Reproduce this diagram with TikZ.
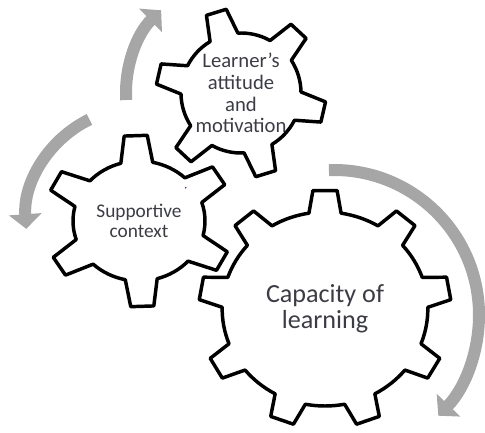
\documentclass[tikz,border=0pt]{standalone}
\usepackage{fontspec}
\setmainfont{Carlito}
\usepackage{tikz}
\usetikzlibrary{arrows.meta}
\definecolor{arrowgray}{RGB}{166,166,166}
\definecolor{textgray}{RGB}{60,60,70}

\begin{document}
\begin{tikzpicture}[x=0.75pt,y=0.75pt,
    gear/.style={draw=black,line width=2.6pt,line join=round},
    turn/.style={draw=arrowgray,line width=9pt,-{Triangle[width=24pt,length=11pt]}},
    word/.style={align=center,text=textgray,inner sep=0pt}]
    \useasboundingbox (0,0) rectangle (485,432);
    \node[word,font=\fontsize{15.5}{16.2}\selectfont] (attitude) at (241,339) {Learner’s\\attitude\\and\\motivation};
    \node[word,font=\fontsize{14.5}{15}\selectfont] (support) at (139,211) {Supportive\\context};
    \node[word,font=\fontsize{19.6}{19.6}\selectfont] (capacity) at (325,123) {Capacity of\\learning};
    \foreach \c/\n/\rot/\rin/\rout/\t/\b/\sx in {attitude/6/107/60/85/7/14/1, support/6/92/60/86/7/14/1.1, capacity/9/90/97/119/5.5/9/1.06}{
      \draw[gear,shift={(\c.center)},xscale=\sx] ({\rot-\b}:\rin)
        \foreach \k [evaluate=\k as \a using \rot+(\k-1)*360/\n] in {1,...,\n}{
          -- ({\a-\t}:\rout) -- ({\a+\t}:\rout) -- ({\a+\b}:\rin)
          arc[start angle=\a+\b,delta angle=360/\n-2*\b,radius=\rin]
        } -- cycle;
    };
    \draw[turn] ([shift={(183.5:115)}]attitude.center) arc[start angle=183.5,end angle=134,radius=115];
    \draw[turn] ([shift={(116:113)}]support.center) arc[start angle=116,end angle=184,radius=113];
    \draw[turn] ([shift={(9,-6)},shift={(92:145)}]capacity.center) arc[start angle=92,end angle=-44,radius=145];
    \fill[violet!70!blue] (185.7,244.3) circle[radius=0.9];
\end{tikzpicture}
\end{document}
